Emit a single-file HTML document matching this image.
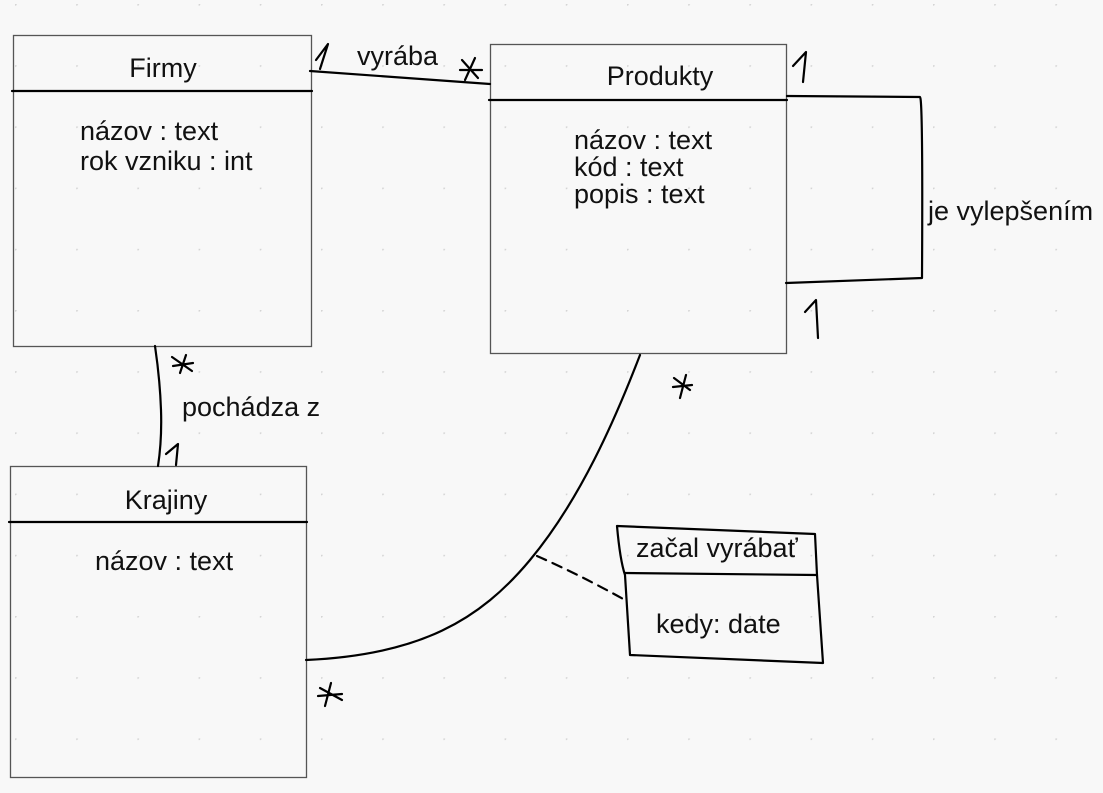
<!DOCTYPE html>
<html><head><meta charset="utf-8"><style>
html,body{margin:0;padding:0;background:#f8f8f8;}
svg{display:block;}
text{font-family:"Liberation Sans",Arial,sans-serif;font-size:27px;fill:#111;}
</style></head><body>
<svg width="1103" height="793" viewBox="0 0 1103 793" xmlns="http://www.w3.org/2000/svg">
<defs><pattern id="d" x="15" y="4" width="61.2" height="61.2" patternUnits="userSpaceOnUse"><circle cx="0.5" cy="0.5" r="1.2" fill="#d4d4d4"/></pattern></defs>
<rect width="1103" height="793" fill="#f8f8f8"/>
<rect width="1103" height="793" fill="url(#d)"/>
<g fill="none" stroke="#555" stroke-width="1.3">
<rect x="13.5" y="35.5" width="298" height="311"/>
<rect x="490.5" y="44.5" width="296" height="309"/>
<rect x="10.5" y="466.5" width="296" height="311"/>
</g>
<g fill="none" stroke="#000" stroke-width="2.2" stroke-linecap="round" stroke-linejoin="round">
<line x1="12" y1="91" x2="312" y2="91"/>
<line x1="489" y1="100" x2="787" y2="100"/>
<line x1="9" y1="522" x2="307" y2="522"/>
<path d="M310 71 L490 84"/>
<path d="M787 96 L920 97 Q923 98 922 278 L786 283"/>
<path d="M155 346 Q160 380 161 410 Q162 440 158 466"/>
<path d="M640 355 C615 420 580 500 530 560 C480 620 420 655 306 660"/>
<path d="M537 556 Q580 575 625 600" stroke-dasharray="10 7"/>
<path d="M617 526 L815 534 L817 575 L823 663 L630 655 L625 575 Q620 560 617 526 Z"/>
<path d="M625 573 L817 575"/>
<path d="M316 60 L328 44 L320 69"/>
<path d="M793 66 L806 52 L803 82"/>
<path d="M805 312 L816 300 L818 338"/>
<path d="M166 454 L178 444 L176 465"/>
<path d="M462 60 L478 78 M475 58 L465 80 M460 70 L482 70"/>
<path d="M172 357 L192 371 M186 355 L180 373 M173 366 L193 363"/>
<path d="M674 378 L690 390 M686 375 L680 398 M673 387 L692 385"/>
<path d="M320 688 L342 700 M331 683 L325 706 M318 696 L342 694"/>
</g>
<text x="163" y="77" text-anchor="middle">Firmy</text>
<text x="80" y="140">názov : text</text>
<text x="80" y="170">rok vzniku : int</text>
<text x="660" y="85" text-anchor="middle">Produkty</text>
<text x="574" y="149">názov : text</text>
<text x="574" y="176">kód : text</text>
<text x="574" y="203">popis : text</text>
<text x="166" y="509" text-anchor="middle">Krajiny</text>
<text x="95" y="570">názov : text</text>
<text x="357" y="65">vyrába</text>
<text x="928" y="220">je vylepšením</text>
<text x="182" y="416">pochádza z</text>
<text x="636" y="557">začal vyrábať</text>
<text x="656" y="633">kedy: date</text>
</svg>
</body></html>
